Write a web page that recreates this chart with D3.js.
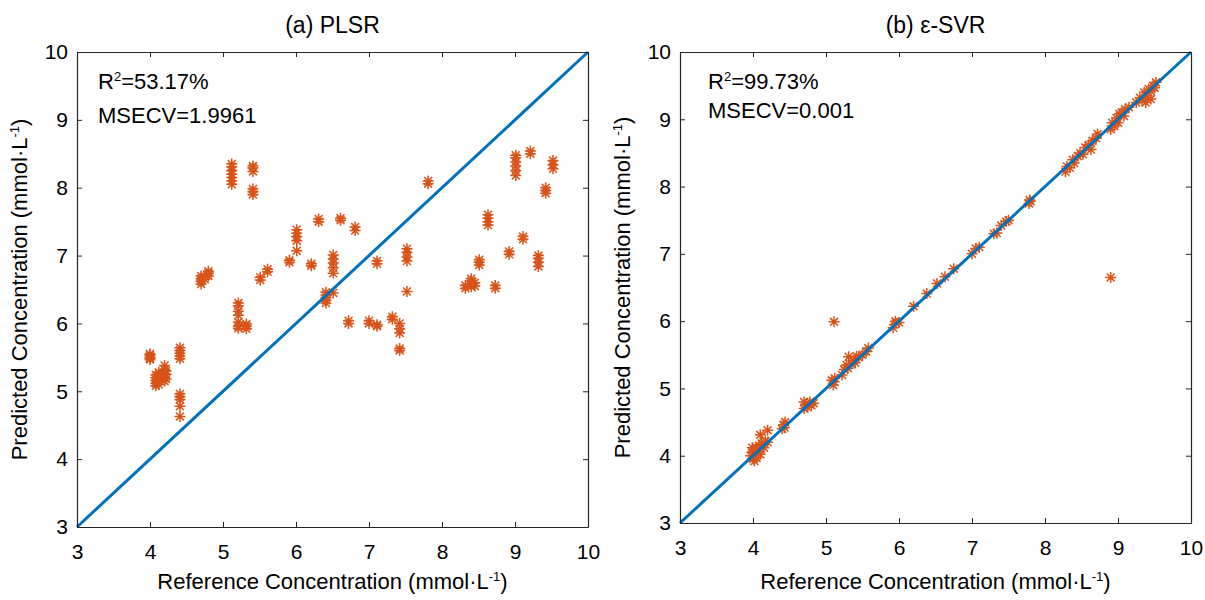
<!DOCTYPE html>
<html>
<head>
<meta charset="utf-8">
<script src="https://cdn.jsdelivr.net/npm/d3@7"></script>
<style>
  body { margin: 0; background: #fff; }
  svg text { font-family: "Liberation Sans", Arial, sans-serif; fill: #000; }
</style>
</head>
<body>
<svg id="chart" width="1205" height="600"></svg>
<script>
/* Predicted vs reference concentration: PLSR and e-SVR */

// tick labels shared by both panels
const axisTicks = [3, 4, 5, 6, 7, 8, 9, 10];

// (a) PLSR — reference / predicted pairs
const plsrRef = [
  4.00, 4.00, 4.00, 4.00, 4.00,
  4.08, 4.08, 4.08, 4.08, 4.08,
  4.12, 4.12, 4.12, 4.12,
  4.20, 4.20, 4.20, 4.20, 4.20,
  4.22, 4.22, 4.22,
  4.41, 4.41, 4.41, 4.41, 4.41,
  4.41, 4.41, 4.41, 4.41, 4.41,
  4.70, 4.70, 4.70, 4.70,
  4.75, 4.75,
  4.80, 4.80, 4.80,
  5.12, 5.12, 5.12, 5.12, 5.12, 5.12, 5.12,
  5.41, 5.41, 5.41, 5.41, 5.41, 5.41,
  5.21, 5.21, 5.21, 5.21, 5.21, 5.21, 5.21,
  5.32, 5.32, 5.32,
  5.51, 5.51, 5.61, 5.61,
  5.91, 5.91,
  6.01, 6.01, 6.01, 6.01, 6.01,
  6.21, 6.21, 6.31, 6.31,
  6.41, 6.41, 6.41, 6.41, 6.41,
  6.51, 6.51, 6.51, 6.51, 6.51, 6.51,
  6.61, 6.61, 6.72, 6.72, 6.81, 6.81,
  7.00, 7.00,
  7.11, 7.11, 7.11, 7.11,
  7.32, 7.32,
  7.42, 7.42, 7.42, 7.42, 7.42,
  7.52, 7.52, 7.52, 7.52, 7.52,
  7.81, 7.81,
  8.32, 8.32,
  8.40, 8.40, 8.40, 8.40,
  8.45, 8.45,
  8.51, 8.51, 8.51,
  8.63, 8.63, 8.63, 8.63,
  8.73, 8.73,
  8.92, 8.92,
  9.01, 9.01, 9.01, 9.01, 9.01, 9.01,
  9.11, 9.11,
  9.21, 9.21,
  9.32, 9.32, 9.32, 9.32,
  9.42, 9.42, 9.42,
  9.52, 9.52, 9.52
];
const plsrPred = [
  5.47, 5.50, 5.53, 5.55, 5.49,
  5.08, 5.12, 5.16, 5.20, 5.24,
  5.10, 5.15, 5.22, 5.28,
  5.15, 5.20, 5.26, 5.32, 5.38,
  5.18, 5.25, 5.30,
  5.48, 5.52, 5.56, 5.60, 5.64,
  4.88, 4.92, 4.96, 4.78, 4.63,
  6.58, 6.62, 6.66, 6.70,
  6.65, 6.69,
  6.70, 6.74, 6.77,
  8.05, 8.10, 8.15, 8.20, 8.25, 8.31, 8.35,
  8.24, 8.29, 8.32, 7.90, 7.94, 7.98,
  6.30, 6.26, 6.18, 6.12, 6.02, 5.96, 5.93,
  5.92, 5.96, 5.99,
  6.64, 6.68, 6.76, 6.80,
  6.90, 6.93,
  7.22, 7.28, 7.33, 7.38, 7.07,
  6.85, 6.88, 7.50, 7.54,
  6.34, 6.38, 6.42, 6.46, 6.30,
  7.01, 6.95, 6.89, 6.82, 6.74, 6.45,
  7.52, 7.55, 6.00, 6.04, 7.37, 7.42,
  6.00, 6.04,
  5.96, 5.98, 6.88, 6.92,
  6.06, 6.10,
  5.86, 5.92, 6.00, 5.60, 5.63,
  6.92, 6.98, 7.05, 7.10, 6.47,
  8.06, 8.10,
  6.52, 6.56,
  6.54, 6.58, 6.62, 6.66,
  6.55, 6.60,
  6.86, 6.90, 6.94,
  7.45, 7.50, 7.55, 7.60,
  6.52, 6.56,
  7.02, 7.06,
  8.18, 8.25, 8.32, 8.38, 8.44, 8.48,
  7.24, 7.28,
  8.50, 8.54,
  6.84, 6.90, 6.96, 7.00,
  7.92, 7.96, 8.00,
  8.28, 8.34, 8.40
];

// (b) e-SVR — reference / predicted pairs
const svrRef = [
  3.97, 3.99, 4.00, 4.02, 4.03, 4.05, 4.05, 4.07, 4.08, 4.10, 4.10, 4.12, 4.15, 4.17, 4.10, 4.20, 4.20, 4.02, 3.99,
  4.40, 4.42, 4.44, 4.43,
  4.70, 4.72, 4.75, 4.78, 4.80, 4.83, 4.70,
  5.10, 5.11, 5.12, 5.08,
  5.11,
  5.22, 5.25, 5.30, 5.31, 5.35, 5.38, 5.40, 5.45, 5.50, 5.55, 5.58, 5.28, 5.42,
  5.92, 5.96, 6.00, 5.95,
  6.20, 6.38, 6.52, 6.63, 6.75,
  7.00, 7.05, 7.10,
  7.30, 7.34, 7.40, 7.47, 7.50,
  7.78, 7.79, 7.80,
  8.28, 8.30, 8.34, 8.38, 8.40, 8.45, 8.48, 8.52, 8.55, 8.60, 8.63, 8.65, 8.70, 8.72,
  8.90, 8.92, 8.95, 8.98, 9.00, 9.02, 9.05, 9.08, 9.10, 9.15,
  8.90,
  9.25, 9.30, 9.33, 9.36, 9.40, 9.42, 9.45, 9.48, 9.50, 9.52, 9.38, 9.45
];
const svrPred = [
  4.00, 4.05, 3.95, 4.08, 4.00, 3.97, 4.12, 4.05, 4.15, 4.02, 4.10, 4.18, 4.12, 4.22, 4.31, 4.38, 4.20, 3.92, 4.12,
  4.40, 4.46, 4.50, 4.42,
  4.70, 4.76, 4.72, 4.80, 4.75, 4.78, 4.80,
  5.05, 5.10, 5.15, 5.12,
  5.99,
  5.20, 5.28, 5.30, 5.47, 5.36, 5.42, 5.38, 5.46, 5.50, 5.55, 5.60, 5.35, 5.48,
  5.90, 5.97, 5.98, 6.00,
  6.22, 6.41, 6.56, 6.66, 6.78,
  7.00, 7.08, 7.10,
  7.30, 7.31, 7.42, 7.48, 7.50,
  7.75, 7.80, 7.78,
  8.22, 8.30, 8.28, 8.40, 8.35, 8.45, 8.50, 8.48, 8.58, 8.62, 8.55, 8.68, 8.72, 8.78,
  8.85, 8.95, 8.90, 9.02, 8.95, 9.08, 9.10, 9.05, 9.15, 9.18,
  6.65,
  9.25, 9.32, 9.28, 9.40, 9.35, 9.45, 9.42, 9.50, 9.47, 9.55, 9.25, 9.30
];

const COLOR_PTS = "#D95319";
const COLOR_LINE = "#0072BD";
const AXIS = "#262626";

const svg = d3.select("#chart");
svg.append("rect").attr("width", 1205).attr("height", 600).attr("fill", "#fff");

// 8-ray asterisk, like matlab '*'
const R = 5.5, D = R * 0.72;
const starPath = `M${-R},0L${R},0M0,${-R}L0,${R}M${-D},${-D}L${D},${D}M${-D},${D}L${D},${-D}`;

function drawPanel(opts) {
  const { left, right, top, bottom, refs, preds, title, r2, msecv, yLabelX, annX, annY } = opts;

  const x = d3.scaleLinear().domain([3, 10]).range([left, right]);
  const y = d3.scaleLinear().domain([3, 10]).range([bottom, top]);
  const g = svg.append("g");

  // title
  g.append("text")
    .attr("x", (left + right) / 2).attr("y", 33)
    .attr("text-anchor", "middle")
    .style("font-size", "23px")
    .text(title);

  // points
  const pts = refs.map((r, i) => ({ r, p: preds[i] }));
  g.append("g").selectAll("path")
    .data(pts)
    .join("path")
    .attr("transform", d => `translate(${x(d.r)},${y(d.p)})`)
    .attr("d", starPath)
    .attr("fill", "none")
    .attr("stroke", COLOR_PTS)
    .attr("stroke-width", 1.5);

  // y = x line
  g.append("line")
    .attr("x1", x(3)).attr("y1", y(3))
    .attr("x2", x(10)).attr("y2", y(10))
    .attr("stroke", COLOR_LINE)
    .attr("stroke-width", 3);

  // axes (ticks inward, mirrored box)
  const styleAxis = sel => {
    sel.select(".domain").attr("stroke", AXIS).attr("stroke-width", 1.2);
    sel.selectAll(".tick line").attr("stroke", AXIS).attr("stroke-width", 1);
    sel.selectAll(".tick text").style("font-size", "21px").attr("fill", "#000");
  };

  g.append("g")
    .attr("transform", `translate(0,${bottom})`)
    .call(d3.axisBottom(x).tickValues(axisTicks).tickSizeInner(-5).tickSizeOuter(0).tickPadding(17).tickFormat(d3.format("d")))
    .call(styleAxis);
  g.append("g")
    .attr("transform", `translate(0,${top})`)
    .call(d3.axisTop(x).tickValues(axisTicks).tickSizeInner(-5).tickSizeOuter(0).tickFormat(""))
    .call(styleAxis);
  g.append("g")
    .attr("transform", `translate(${left},0)`)
    .call(d3.axisLeft(y).tickValues(axisTicks).tickSizeInner(-5).tickSizeOuter(0).tickPadding(9).tickFormat(d3.format("d")))
    .call(styleAxis);
  g.append("g")
    .attr("transform", `translate(${right},0)`)
    .call(d3.axisRight(y).tickValues(axisTicks).tickSizeInner(-5).tickSizeOuter(0).tickFormat(""))
    .call(styleAxis);
  g.selectAll(".tick text").attr("font-family", null);

  // annotation
  const ann = g.append("text").attr("x", annX).attr("y", annY[0]).style("font-size", "22px");
  ann.append("tspan").text("R");
  ann.append("tspan").attr("dy", -8).style("font-size", "13px").text("2");
  ann.append("tspan").attr("dy", 8).text("=" + r2);
  g.append("text").attr("x", annX).attr("y", annY[1]).style("font-size", "22px")
    .text("MSECV=" + msecv);

  // x label
  const xl = g.append("text")
    .attr("x", (left + right) / 2).attr("y", 589)
    .attr("text-anchor", "middle")
    .style("font-size", "22px");
  xl.append("tspan").text("Reference Concentration (mmol\u00B7L");
  xl.append("tspan").attr("dy", -8).style("font-size", "13px").text("-1");
  xl.append("tspan").attr("dy", 8).text(")");

  // y label
  const yl = g.append("text")
    .attr("transform", `translate(${yLabelX},${(top + bottom) / 2}) rotate(-90)`)
    .attr("text-anchor", "middle")
    .style("font-size", "22px");
  yl.append("tspan").text("Predicted Concentration (mmol\u00B7L");
  yl.append("tspan").attr("dy", -8).style("font-size", "13px").text("-1");
  yl.append("tspan").attr("dy", 8).text(")");
}

drawPanel({
  left: 77, right: 588, top: 52, bottom: 527,
  refs: plsrRef, preds: plsrPred,
  title: "(a) PLSR", r2: "53.17%", msecv: "1.9961", yLabelX: 27, annX: 98, annY: [89, 123]
});

drawPanel({
  left: 680, right: 1191, top: 52, bottom: 523,
  refs: svrRef, preds: svrPred,
  title: "(b) \u03B5-SVR", r2: "99.73%", msecv: "0.001", yLabelX: 630, annX: 708, annY: [89, 118]
});
</script>
</body>
</html>
